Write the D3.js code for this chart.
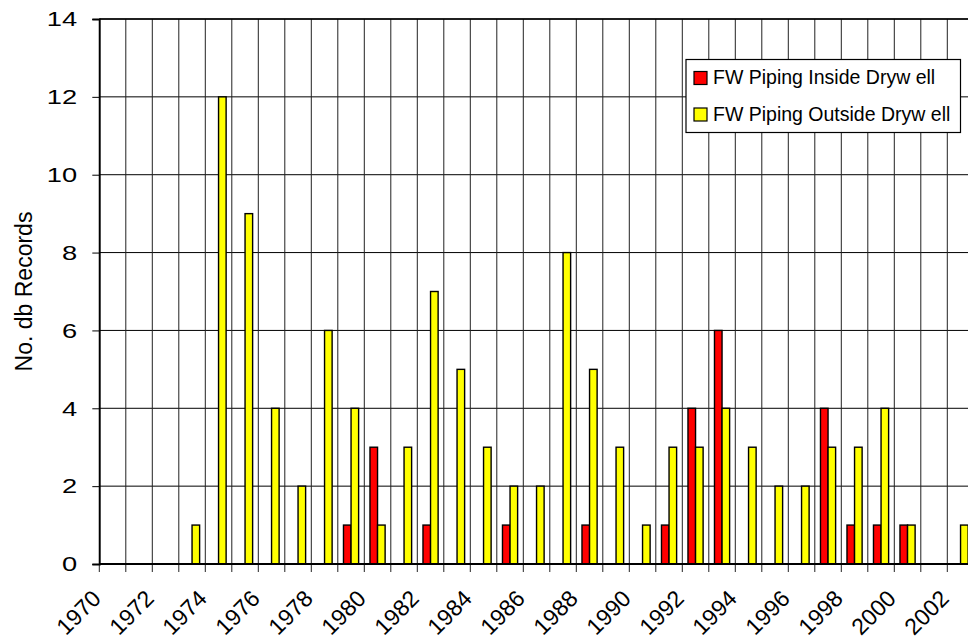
<!DOCTYPE html>
<html>
<head>
<meta charset="utf-8">
<script src="https://cdn.jsdelivr.net/npm/d3@7"></script>
<style>
  body { margin: 0; background: #fff; }
  text { font-family: "Liberation Sans", Arial, sans-serif; fill: #000; }
</style>
</head>
<body>
<div id="chart"></div>
<script>
var years = ["1970","1971","1972","1973","1974","1975","1976","1977","1978","1979",
             "1980","1981","1982","1983","1984","1985","1986","1987","1988","1989",
             "1990","1991","1992","1993","1994","1995","1996","1997","1998","1999",
             "2000","2001","2002"];
var insideDrywell  = [0,0,0,0,0,0,0,0,0,1, 3,0,1,0,0,1,0,0,1,0, 0,1,4,6,0,0,0,4,1,1, 1,0,0];
var outsideDrywell = [0,0,0,1,12,9,4,2,6,4, 1,3,7,5,3,2,2,8,5,3, 1,3,3,4,3,2,2,3,3,4, 1,0,1];
var seriesNames = ["FW Piping Inside Dryw ell", "FW Piping Outside Dryw ell"];
var seriesColors = ["#ff0000", "#ffff00"];
var yTicks = [0, 2, 4, 6, 8, 10, 12, 14];

var width = 968, height = 643;
var margin = { top: 19, left: 99.3, bottom: 79 };
var plotW = 33 * 26.5;
var plotH = height - margin.top - margin.bottom;

var rows = years.map(function(y, i) {
    return { year: y, values: [insideDrywell[i], outsideDrywell[i]] };
});

// set the ranges
var x = d3.scaleBand()
    .domain(years)
    .range([0, plotW]);

var xSeries = d3.scaleBand()
    .domain([0, 1])
    .range([0, x.bandwidth()])
    .paddingOuter(0.75);

var y = d3.scaleLinear()
    .domain([0, 14])
    .range([plotH, 0]);

var svg = d3.select("#chart").append("svg")
    .attr("width", width)
    .attr("height", height)
    .append("g")
    .attr("transform", "translate(" + margin.left + "," + margin.top + ")");

// horizontal grid lines
svg.selectAll(".hgrid")
    .data(yTicks)
    .enter()
    .append("line")
      .attr("x1", 0)
      .attr("x2", plotW)
      .attr("y1", function(d) { return y(d); })
      .attr("y2", function(d) { return y(d); })
      .attr("stroke", "#000")
      .attr("stroke-width", 1);

// vertical grid lines, one per category boundary
svg.selectAll(".vgrid")
    .data(years)
    .enter()
    .append("line")
      .attr("x1", function(d) { return x(d); })
      .attr("x2", function(d) { return x(d); })
      .attr("y1", 0)
      .attr("y2", plotH + 8)
      .attr("stroke", "#222")
      .attr("stroke-width", 1);

// top border
svg.append("line")
    .attr("x1", 0).attr("x2", plotW)
    .attr("y1", 0).attr("y2", 0)
    .attr("stroke", "#000")
    .attr("stroke-width", 1.6);

// bars
var groups = svg.selectAll(".year")
    .data(rows)
    .enter()
    .append("g")
    .attr("transform", function(d) { return "translate(" + x(d.year) + ",0)"; });

groups.selectAll("rect")
    .data(function(d) { return d.values.map(function(v, i) { return { s: i, v: v }; }); })
    .enter()
    .filter(function(d) { return d.v > 0; })
    .append("rect")
      .attr("x", function(d) { return xSeries(d.s); })
      .attr("y", function(d) { return y(d.v); })
      .attr("width", xSeries.bandwidth())
      .attr("height", function(d) { return y(0) - y(d.v); })
      .attr("fill", function(d) { return seriesColors[d.s]; })
      .attr("stroke", "#000")
      .attr("stroke-width", 1.4);

// left axis
var yAxis = svg.append("g")
    .call(d3.axisLeft(y).tickValues(yTicks).tickSize(7).tickPadding(10));
yAxis.select(".domain").attr("stroke-width", 1.8);
yAxis.selectAll(".tick line").attr("stroke-width", 1);
yAxis.selectAll(".tick text")
    .style("font-size", "21px")
    .attr("transform", "translate(-17,0) scale(1.3,1) translate(13,0)");

// bottom axis line
svg.append("line")
    .attr("x1", 0).attr("x2", plotW)
    .attr("y1", plotH).attr("y2", plotH)
    .attr("stroke", "#000")
    .attr("stroke-width", 1.8);

// year labels, every other year
svg.selectAll(".xlabel")
    .data(years.filter(function(d, i) { return i % 2 === 0; }))
    .enter()
    .append("text")
      .attr("text-anchor", "end")
      .style("font-size", "23px")
      .attr("transform", function(d) {
          return "translate(" + (x(d) + 3) + "," + (plotH + 36) + ") rotate(-45)";
      })
      .text(function(d) { return d; });

// y axis title
svg.append("text")
    .attr("text-anchor", "middle")
    .style("font-size", "23px")
    .attr("transform", "translate(" + (-margin.left + 32) + "," + (plotH / 2) + ") rotate(-90)")
    .text("No. db Records");

// legend
var legend = svg.append("g")
    .attr("transform", "translate(" + (686 - margin.left) + "," + (59.5 - margin.top) + ")");

legend.append("rect")
    .attr("width", 274.5)
    .attr("height", 73)
    .attr("fill", "#fff")
    .attr("stroke", "#000")
    .attr("stroke-width", 1.2);

var items = legend.selectAll(".item")
    .data(seriesNames)
    .enter()
    .append("g")
    .attr("transform", function(d, i) { return "translate(8," + (12 + i * 36.5) + ")"; });

items.append("rect")
    .attr("width", 13)
    .attr("height", 13)
    .attr("fill", function(d, i) { return seriesColors[i]; })
    .attr("stroke", "#000")
    .attr("stroke-width", 1.2);

items.append("text")
    .attr("x", 19)
    .attr("y", 12.5)
    .style("font-size", "19.5px")
    .text(function(d) { return d; });
</script>
</body>
</html>
